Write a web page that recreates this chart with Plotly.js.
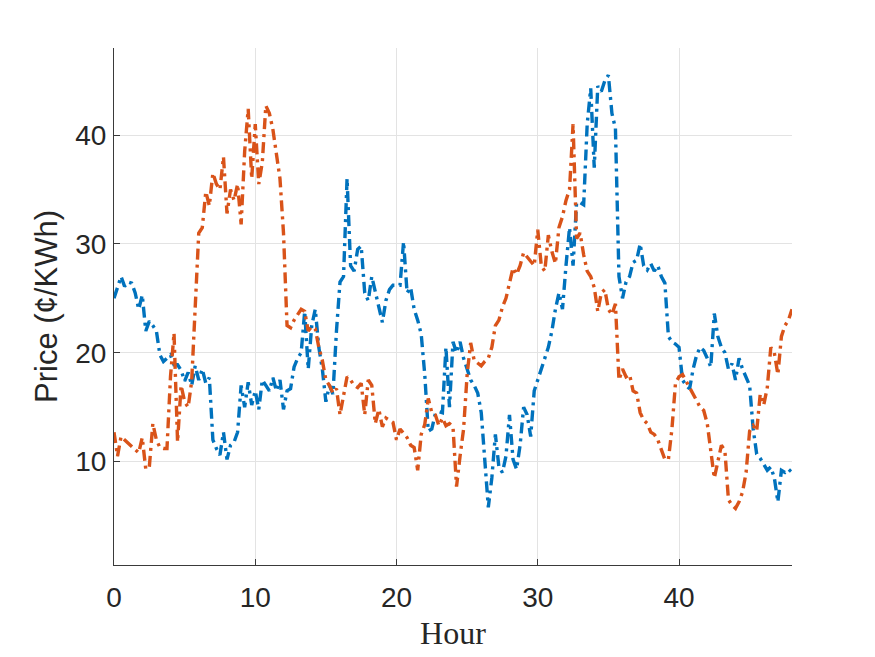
<!DOCTYPE html>
<html>
<head>
<meta charset="utf-8">
<script src="https://cdn.plot.ly/plotly-3.0.1.min.js"></script>
<style>
html,body{margin:0;padding:0;background:#fff;}
#chart{width:875px;height:657px;}
</style>
</head>
<body>
<div id="chart"></div>
<script>
// sample step in hours (readings every quarter hour, 0..48 h)
const stepHours = 0.25;

// Series 1 (blue) price, ¢/KWh
const priceBlue = [
25.0,26.0,27.0,26.1,26.5,26.4,25.5,24.0,25.3,22.0,22.9,22.5,22.0,19.8,19.2,19.5,
19.8,18.9,18.9,18.4,17.4,18.2,17.0,18.8,17.5,18.5,17.2,17.7,12.0,11.2,10.6,12.7,
10.2,11.5,11.8,12.7,17.0,15.0,17.3,15.2,16.5,14.8,17.5,17.0,16.5,17.7,16.5,17.5,
14.8,16.5,16.7,18.7,19.5,20.0,23.8,18.5,22.5,24.0,20.5,18.5,15.5,17.0,16.2,22.0,
26.5,27.0,36.0,28.0,27.5,29.5,29.8,25.5,24.8,27.0,25.6,24.5,22.8,24.8,25.8,26.2,
26.2,26.2,30.2,25.5,26.0,24.0,23.0,21.7,18.0,12.8,13.0,14.4,14.6,14.5,20.5,15.0,
21.0,20.0,21.0,19.5,18.5,17.5,17.0,16.3,14.5,10.0,5.8,8.5,12.5,9.5,9.0,10.5,
14.3,10.2,9.3,11.5,15.0,14.3,12.3,16.5,17.5,18.4,19.3,20.5,22.0,24.0,25.5,24.0,
28.0,31.5,28.0,33.8,33.8,33.6,41.0,44.3,37.0,44.5,44.0,45.0,45.5,42.0,40.6,27.0,
25.0,26.5,27.0,28.3,28.5,30.0,28.0,27.6,28.2,27.5,28.0,27.0,26.4,21.5,21.0,20.8,
20.5,17.5,17.0,16.7,18.5,19.8,20.5,20.2,19.5,18.7,23.6,21.5,20.5,20.0,18.5,19.0,
17.5,19.5,18.5,17.8,17.0,13.0,10.7,10.3,9.8,9.2,9.5,8.5,6.3,9.2,9.0,9.3,
9.0
];

// Series 2 (orange) price, ¢/KWh
const priceOrange = [
12.7,10.5,12.3,12.0,11.7,11.5,11.2,10.8,12.2,9.3,9.5,13.5,12.0,11.3,11.2,11.2,
17.8,21.8,11.8,17.0,15.5,15.0,17.4,23.7,31.0,31.5,34.8,33.5,36.5,35.5,35.0,38.0,
32.8,35.0,34.0,35.5,31.8,38.5,42.4,36.0,41.0,35.5,37.5,42.7,42.0,40.5,38.0,36.0,
31.0,22.5,22.3,23.0,23.5,24.0,23.8,22.0,22.4,22.2,20.5,19.3,17.5,17.0,16.3,16.7,
14.3,16.0,17.8,17.5,17.0,16.8,17.2,14.3,17.5,17.0,13.5,14.8,13.2,14.0,13.8,13.6,
12.0,13.0,12.6,12.2,11.5,11.3,9.2,12.5,13.4,15.8,14.5,14.3,13.3,14.0,13.3,13.5,
13.2,7.7,10.5,13.0,18.0,20.9,19.3,19.0,18.8,19.2,19.5,20.5,22.5,23.0,24.2,25.0,
26.5,27.8,27.2,28.0,29.2,28.8,28.5,28.0,31.3,28.0,27.5,30.8,29.3,28.2,31.5,32.5,
34.0,35.0,41.0,30.5,31.0,29.0,27.5,27.0,26.0,23.8,25.5,25.8,24.0,23.5,24.5,17.5,
18.5,17.8,18.0,16.5,16.3,14.5,13.8,13.5,12.7,12.5,12.0,11.0,10.2,10.2,13.0,17.2,
17.8,18.0,17.4,16.8,16.3,15.6,15.0,14.7,13.5,11.0,8.5,10.0,11.5,11.0,6.5,6.0,
5.7,6.3,7.2,9.0,12.8,13.3,12.8,16.2,15.2,16.8,20.5,20.0,18.0,21.5,22.5,23.0,
24.0
];

const xTicks = [0, 10, 20, 30, 40];
const yTicks = [10, 20, 30, 40];

const hours = priceBlue.map((_, i) => i * stepHours);

const dashPattern = '11px,5px,3px,5px';

const traces = [
  {x: hours, y: priceBlue, type: 'scatter', mode: 'lines',
   line: {color: '#0072BD', width: 3.4, dash: dashPattern}, hoverinfo: 'skip'},
  {x: hours, y: priceOrange, type: 'scatter', mode: 'lines',
   line: {color: '#D95319', width: 3.4, dash: dashPattern}, hoverinfo: 'skip'}
];

const layout = {
  width: 875, height: 657,
  margin: {l: 114, r: 83, t: 48, b: 92, pad: 0},
  paper_bgcolor: '#ffffff', plot_bgcolor: '#ffffff',
  showlegend: false,
  font: {family: 'Liberation Sans, Arial, sans-serif', color: '#262626'},
  xaxis: {
    range: [0, 48], tickvals: xTicks, ticktext: xTicks.map(String),
    showgrid: true, gridcolor: '#e3e3e3', gridwidth: 1, zeroline: false,
    showline: true, linecolor: '#3a3a3a', linewidth: 1, mirror: false,
    ticks: 'inside', ticklen: 6, tickcolor: '#3a3a3a',
    ticklabelstandoff: 7,
    tickfont: {size: 28, color: '#262626'},
    title: {text: 'Hour', font: {family: 'Liberation Serif, DejaVu Serif, serif', size: 32, color: '#262626'}, standoff: 10}
  },
  yaxis: {
    range: [0.5, 48], tickvals: yTicks, ticktext: yTicks.map(String),
    showgrid: true, gridcolor: '#e3e3e3', gridwidth: 1, zeroline: false,
    showline: true, linecolor: '#3a3a3a', linewidth: 1, mirror: false,
    ticks: 'inside', ticklen: 6, tickcolor: '#3a3a3a',
    ticklabelstandoff: 1,
    tickfont: {size: 28, color: '#262626'},
    title: {text: 'Price (¢/KWh)', font: {size: 31, color: '#262626'}, standoff: 8}
  }
};

Plotly.newPlot('chart', traces, layout, {staticPlot: true, displayModeBar: false});
</script>
</body>
</html>
